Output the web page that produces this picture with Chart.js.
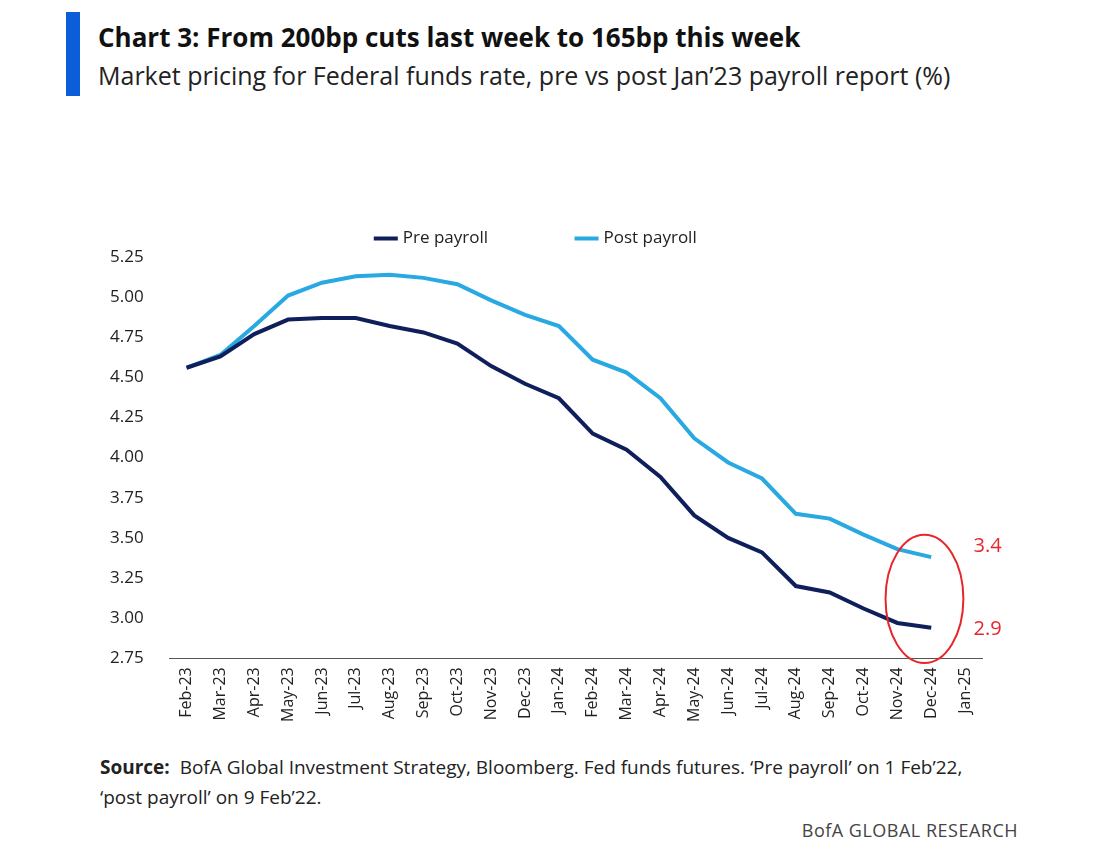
<!DOCTYPE html>
<html><head><meta charset="utf-8">
<script src="https://cdn.jsdelivr.net/npm/chart.js@4"></script>
<style>
body{margin:0;background:#fff;font-family:"Open Sans",sans-serif;width:1100px;height:853px;position:relative;overflow:hidden}
#bar{position:absolute;left:66px;top:12px;width:14px;height:84px;background:#0b5ed7}
#t{position:absolute;left:98px;top:19px;font-size:26px;font-weight:bold;color:#111}
#s{position:absolute;left:98px;top:58px;font-size:25px;color:#222}
#wrap{position:absolute;left:92px;top:140px;width:915px;height:585px}
#src{position:absolute;left:100px;top:752px;font-size:19px;color:#222;line-height:30px;width:980px}
#bofa{position:absolute;right:82px;top:818px;font-size:18px;color:#444;letter-spacing:0.5px}
</style></head><body>
<div id="bar"></div>
<div id="t">Chart 3: From 200bp cuts last week to 165bp this week</div>
<div id="s">Market pricing for Federal funds rate, pre vs post Jan’23 payroll report (%)</div>
<div id="wrap"><canvas id="chart"></canvas></div>
<div id="src"><b>Source:</b>&nbsp; BofA Global Investment Strategy, Bloomberg. Fed funds futures. ‘Pre payroll’ on 1 Feb’22,<br>‘post payroll’ on 9 Feb’22.</div>
<div id="bofa">BofA GLOBAL RESEARCH</div>
<script>
const MONTHS = ["Feb-23","Mar-23","Apr-23","May-23","Jun-23","Jul-23","Aug-23","Sep-23","Oct-23","Nov-23","Dec-23","Jan-24","Feb-24","Mar-24","Apr-24","May-24","Jun-24","Jul-24","Aug-24","Sep-24","Oct-24","Nov-24","Dec-24","Jan-25"];
const PRE = [4.56,4.63,4.77,4.86,4.87,4.87,4.82,4.78,4.71,4.57,4.46,4.37,4.15,4.05,3.88,3.64,3.50,3.41,3.20,3.16,3.06,2.97,2.94,null];
const POST = [4.56,4.64,4.82,5.01,5.09,5.13,5.14,5.12,5.08,4.98,4.89,4.82,4.61,4.53,4.37,4.12,3.97,3.87,3.65,3.62,3.52,3.43,3.38,null];
const END_LABELS = ["3.4","2.9"];

const ring = {
  id: "ring",
  afterDatasetsDraw(chart) {
    const {ctx, scales: {x, y}} = chart;
    const cx = x.getPixelForValue(21.8), cy = y.getPixelForValue(3.12);
    const rx = x.getPixelForValue(22.95) - cx, ry = cy - y.getPixelForValue(3.52);
    ctx.save();
    ctx.strokeStyle = "#e8262b"; ctx.lineWidth = 2;
    ctx.beginPath(); ctx.ellipse(cx, cy, rx, ry, 0, 0, Math.PI * 2); ctx.stroke();
    ctx.fillStyle = "#e8262b"; ctx.font = "20px 'Open Sans'"; ctx.textBaseline = "middle";
    const lx = x.getPixelForValue(23.25);
    ctx.fillText(END_LABELS[0], lx, y.getPixelForValue(3.45));
    ctx.fillText(END_LABELS[1], lx, y.getPixelForValue(2.93));
    ctx.restore();
  }
};

new Chart(document.getElementById("chart").getContext("2d"), {
  type: "line",
  data: {
    labels: MONTHS,
    datasets: [
      {label: "Pre payroll", data: PRE, borderColor: "#0f1f5c", borderWidth: 4, pointRadius: 0, tension: 0},
      {label: "Post payroll", data: POST, borderColor: "#29a9e1", borderWidth: 4, pointRadius: 0, tension: 0}
    ]
  },
  options: {
    responsive: true, maintainAspectRatio: false, animation: false,
    layout: {padding: {right: 25}},
    plugins: {
      legend: {labels: {usePointStyle: true, pointStyle: "line", boxWidth: 55, padding: 90, color: "#222", font: {size: 17, family: "Open Sans"}, generateLabels(c) {
        return c.data.datasets.map((d, i) => ({text: d.label, strokeStyle: d.borderColor, lineWidth: 4, pointStyle: "line", datasetIndex: i, fontColor: "#222"}));
      }}},
      tooltip: {enabled: false}
    },
    scales: {
      x: {offset: true, grid: {display: false, offset: false, drawTicks: true, tickLength: 6, tickColor: "#555"}, border: {color: "#555"},
          ticks: {maxRotation: 90, minRotation: 90, color: "#222", font: {size: 16, family: "Open Sans"}}},
      y: {min: 2.75, max: 5.25, grid: {display: false}, border: {display: false},
          ticks: {stepSize: 0.25, padding: 18, color: "#222", font: {size: 17, family: "Open Sans"}, callback: v => v.toFixed(2)}}
    }
  },
  plugins: [ring]
});
</script>
</body></html>
